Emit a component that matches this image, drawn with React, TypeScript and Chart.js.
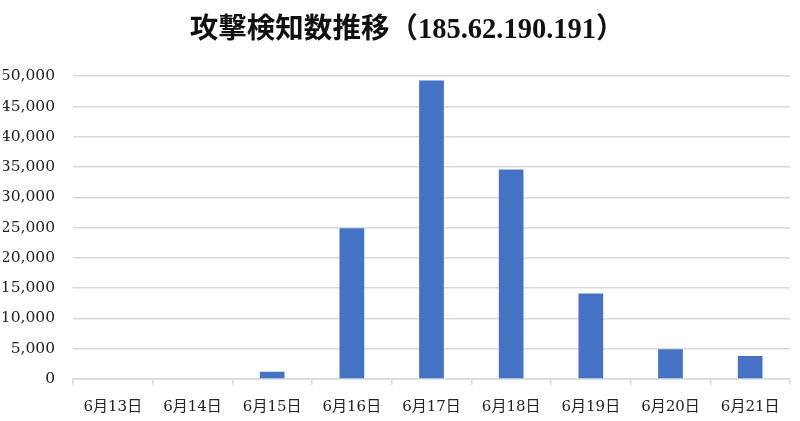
import React, { useEffect, useRef } from 'react';
import { Chart, registerables } from 'chart.js';

Chart.register(...registerables);

// Data
const chartTitle = '攻撃検知数推移（185.62.190.191）';
const days = ['6月13日', '6月14日', '6月15日', '6月16日', '6月17日', '6月18日', '6月19日', '6月20日', '6月21日'];
const detections = [0, 0, 1200, 24900, 49300, 34600, 14100, 4900, 3800];

const yMin = 0;
const yMax = 50000;
const yStep = 5000;

const serifFont = "'DejaVu Serif', 'Liberation Serif', 'Noto Sans CJK JP', serif";
const titleFont = "'Liberation Serif', 'Noto Sans CJK JP', serif";

const DetectionChart: React.FC = () => {
  const chartRef = useRef<HTMLCanvasElement | null>(null);
  const chartInstance = useRef<Chart | null>(null);

  useEffect(() => {
    if (!chartRef.current) return;
    const ctx = chartRef.current.getContext('2d');
    if (!ctx) return;

    chartInstance.current = new Chart(ctx, {
      type: 'bar',
      data: {
        labels: days,
        datasets: [
          {
            label: '検知数',
            data: detections,
            backgroundColor: '#4472C4',
            borderWidth: 0,
            barPercentage: 0.31,
            categoryPercentage: 1,
          },
        ],
      },
      options: {
        responsive: true,
        maintainAspectRatio: false,
        animation: false,
        layout: {
          padding: { left: 3, right: 10, top: 0, bottom: -8 },
        },
        plugins: {
          legend: { display: false },
          tooltip: { enabled: false },
          title: {
            display: true,
            // leading spaces nudge the centred title a little to the right
            text: '   ' + chartTitle,
            color: '#111',
            font: { family: titleFont, size: 28.5, weight: 'bold' },
            padding: { top: 14, bottom: 28 },
          },
        },
        scales: {
          x: {
            grid: {
              display: true,
              drawOnChartArea: false,
              drawTicks: true,
              tickLength: 6,
              color: '#d9d9d9',
              lineWidth: 1.5,
              offset: true,
            },
            border: { display: true, color: '#d9d9d9', width: 1.5 },
            ticks: {
              color: '#222',
              padding: 13,
              maxRotation: 0,
              font: { family: serifFont, size: 15 },
            },
          },
          y: {
            min: yMin,
            max: yMax,
            afterFit: (scale) => {
              // fixed axis width so the plot starts where the reference does
              scale.width = 70;
            },
            grid: {
              color: '#d9d9d9',
              lineWidth: 1.5,
              drawTicks: false,
            },
            border: { display: false },
            ticks: {
              stepSize: yStep,
              color: '#222',
              padding: 18,
              font: { family: serifFont, size: 15.5 },
              callback: (value) => Number(value).toLocaleString('en-US'),
            },
          },
        },
      },
    });

    return () => {
      if (chartInstance.current) {
        chartInstance.current.destroy();
        chartInstance.current = null;
      }
    };
  }, []);

  return (
    <div style={{ position: 'absolute', left: 0, top: 0, width: 800, height: 421, background: '#fff' }}>
      <canvas ref={chartRef}></canvas>
    </div>
  );
};

export default function App() {
  return <DetectionChart />;
}
